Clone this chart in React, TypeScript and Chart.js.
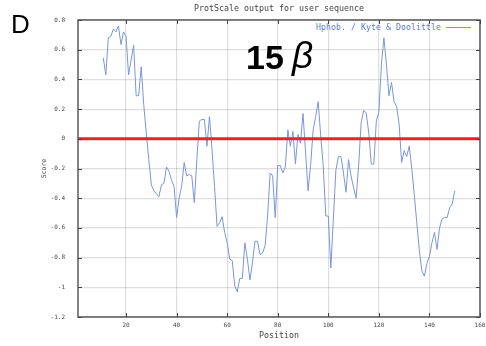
import React, { useEffect, useRef } from "react";
import { Chart, registerables } from "chart.js";

Chart.register(...registerables);

const positions: number[] = [
  11, 12, 13, 14, 15, 16, 17, 18, 19, 20, 21, 22, 23, 24, 25, 26, 27, 28, 29, 30,
  31, 32, 33, 34, 35, 36, 37, 38, 39, 40, 41, 42, 43, 44, 45, 46, 47, 48, 49, 50,
  51, 52, 53, 54, 55, 56, 57, 58, 59, 60, 61, 62, 63, 64, 65, 66, 67, 68, 69, 70,
  71, 72, 73, 74, 75, 76, 77, 78, 79, 80, 81, 82, 83, 84, 85, 86, 87, 88, 89, 90,
  91, 92, 93, 94, 95, 96, 97, 98, 99, 100, 101, 102, 103, 104, 105, 106, 107, 108, 109, 110,
  111, 112, 113, 114, 115, 116, 117, 118, 119, 120, 121, 122, 123, 124, 125, 126, 127, 128, 129, 130,
  131, 132, 133, 134, 135, 136, 137, 138, 139, 140, 141, 142, 143, 144, 145, 146, 147, 148, 149, 150,
];

const scores: number[] = [
  0.545, 0.43, 0.68, 0.69, 0.74, 0.72, 0.76, 0.635, 0.72, 0.69,
  0.43, 0.53, 0.63, 0.29, 0.29, 0.485, 0.23, 0.04, -0.14, -0.31,
  -0.35, -0.37, -0.39, -0.31, -0.3, -0.19, -0.22, -0.28, -0.32, -0.53,
  -0.4, -0.32, -0.16, -0.25, -0.24, -0.25, -0.43, -0.14, 0.12, 0.13,
  0.13, -0.05, 0.15, -0.07, -0.32, -0.59, -0.565, -0.525, -0.63, -0.7,
  -0.81, -0.82, -0.99, -1.03, -0.94, -0.94, -0.7, -0.81, -0.95, -0.835,
  -0.69, -0.69, -0.78, -0.77, -0.72, -0.52, -0.23, -0.25, -0.53, -0.18,
  -0.18, -0.23, -0.19, 0.06, -0.05, 0.05, -0.17, 0.03, -0.03, 0.17,
  -0.09, -0.35, -0.18, 0.06, 0.15, 0.25, 0.02, -0.18, -0.52, -0.52,
  -0.87, -0.54, -0.21, -0.12, -0.12, -0.23, -0.36, -0.14, -0.25, -0.33,
  -0.4, -0.18, 0.11, 0.19, 0.175, 0.04, -0.17, -0.17, 0.12, 0.18,
  0.5, 0.68, 0.5, 0.29, 0.38, 0.25, 0.22, 0.1, -0.16, -0.08,
  -0.12, -0.05, -0.2, -0.375, -0.565, -0.75, -0.89, -0.925, -0.84, -0.79,
  -0.7, -0.63, -0.745, -0.6, -0.54, -0.53, -0.53, -0.465, -0.44, -0.35,
];

const xMin = 1;
const xMax = 160;
const xTicks: number[] = [20, 40, 60, 80, 100, 120, 140, 160];
const yTicks: number[] = [-1.2, -1, -0.8, -0.6, -0.4, -0.2, 0, 0.2, 0.4, 0.6, 0.8];
const yTickLabels: string[] = ["-1.2", "-1", "-0.8", "-0.6", "-0.4", "-0.2", "0", "0.2", "0.4", "0.6", "0.8"];
const zeroLine: number[] = [0, 0];

const titleText = "ProtScale output for user sequence";
const legendText = "Hphob. / Kyte & Doolittle";
const xTitle = "Position";
const yTitle = "Score";

const MONO = "'DejaVu Sans Mono', monospace";
const BLUE = "#7a95dc";

const framePlugin = {
  id: "frame",
  afterDraw(chart: any) {
    const { ctx, chartArea, scales } = chart;
    const { left, right, top, bottom } = chartArea;
    ctx.save();
    ctx.strokeStyle = "#5a5a5a";
    ctx.lineWidth = 1.5;
    ctx.strokeRect(left, top, right - left, bottom - top);
    ctx.lineWidth = 1;
    ctx.strokeStyle = "#444";
    ctx.beginPath();
    for (const t of scales.x.ticks) {
      const px = Math.round(scales.x.getPixelForValue(t.value)) + 0.5;
      ctx.moveTo(px, top);
      ctx.lineTo(px, top + 4);
      ctx.moveTo(px, bottom);
      ctx.lineTo(px, bottom - 4);
    }
    for (const t of scales.y.ticks) {
      const py = Math.round(scales.y.getPixelForValue(t.value)) + 0.5;
      ctx.moveTo(left, py);
      ctx.lineTo(left + 4, py);
      ctx.moveTo(right, py);
      ctx.lineTo(right - 4, py);
    }
    ctx.stroke();
    ctx.restore();
  },
};

export default function App() {
  const canvasRef = useRef<HTMLCanvasElement | null>(null);

  useEffect(() => {
    if (!canvasRef.current) return;
    const chart = new Chart(canvasRef.current, {
      type: "line",
      data: {
        datasets: [
          {
            label: "zero",
            data: [xMin, xMax].map((x, i) => ({ x, y: zeroLine[i] })),
            borderColor: "#e8232b",
            borderWidth: 3,
            pointRadius: 0,
            tension: 0,
          },
          {
            label: legendText,
            data: positions.map((p, i) => ({ x: p, y: scores[i] })),
            borderColor: BLUE,
            borderWidth: 1,
            pointRadius: 0,
            tension: 0,
          },
        ],
      },
      plugins: [framePlugin],
      options: {
        animation: false,
        responsive: false,
        devicePixelRatio: 1,
        layout: { padding: { left: 0, top: 20, right: 6, bottom: 0 } },
        plugins: {
          legend: { display: false },
          title: { display: false },
          tooltip: { enabled: false },
        },
        scales: {
          x: {
            type: "linear",
            min: xMin,
            max: xMax,
            afterBuildTicks: (scale: any) => {
              scale.ticks = xTicks.map((v) => ({ value: v }));
            },
            afterFit: (scale: any) => {
              scale.height = 29;
              scale.paddingLeft = 0;
              scale.paddingRight = 0;
            },
            grid: { color: "rgba(0,0,0,0.13)", lineWidth: 1.2, drawTicks: false },
            border: { display: false },
            ticks: {
              padding: 5,
              maxRotation: 0,
              autoSkip: false,
              color: "#444",
              font: { family: MONO, size: 6 },
              callback: (v: any) => String(v),
            },
            title: {
              display: true,
              text: xTitle,
              color: "#444",
              font: { family: MONO, size: 8.3 },
              padding: { top: 0, bottom: 5 },
            },
          },
          y: {
            type: "linear",
            min: -1.2,
            max: 0.8,
            afterBuildTicks: (scale: any) => {
              scale.ticks = yTicks.map((v) => ({ value: v }));
            },
            afterFit: (scale: any) => {
              scale.width = 78;
              scale.paddingTop = 0;
              scale.paddingBottom = 0;
            },
            grid: { color: "rgba(0,0,0,0.13)", lineWidth: 1.2, drawTicks: false },
            border: { display: false },
            ticks: {
              padding: 13,
              autoSkip: false,
              color: "#444",
              font: { family: MONO, size: 6 },
              callback: (_v: any, i: number) => yTickLabels[i],
            },
            title: {
              display: true,
              text: yTitle,
              color: "#444",
              font: { family: MONO, size: 6.5 },
              padding: { top: 40, bottom: 0 },
            },
          },
        },
      },
    });
    return () => chart.destroy();
  }, []);

  return (
    <div style={{ position: "absolute", left: 0, top: 0, width: 486, height: 346, background: "#fff", overflow: "hidden" }}>
      <canvas ref={canvasRef} width={486} height={346} style={{ position: "absolute", left: 0, top: 0 }} />
      <div
        style={{
          position: "absolute",
          left: 0,
          width: 558,
          top: 2.5,
          textAlign: "center",
          fontFamily: MONO,
          fontSize: 8.3,
          lineHeight: "10px",
          color: "#444",
          whiteSpace: "nowrap",
        }}
      >
        {titleText}
      </div>
      <div
        style={{
          position: "absolute",
          left: 11,
          top: 11,
          fontFamily: "'Liberation Sans', Arial, sans-serif",
          fontSize: 26,
          lineHeight: 1,
          color: "#000",
        }}
      >
        D
      </div>
      <div
        style={{
          position: "absolute",
          left: 246,
          top: 39.5,
          fontFamily: "'Liberation Sans', Arial, sans-serif",
          fontSize: 34,
          fontWeight: "bold",
          lineHeight: 1,
          color: "#000",
          whiteSpace: "nowrap",
        }}
      >
        15
      </div>
      <div
        style={{
          position: "absolute",
          left: 292,
          top: 37,
          fontFamily: "'Liberation Sans', Arial, sans-serif",
          fontSize: 37,
          fontStyle: "italic",
          lineHeight: 1,
          color: "#000",
        }}
      >
        β
      </div>
      <div
        style={{
          position: "absolute",
          left: 316,
          top: 22,
          fontFamily: MONO,
          fontSize: 8.3,
          lineHeight: "10px",
          color: "#5d7bd0",
          whiteSpace: "nowrap",
        }}
      >
        {legendText}
      </div>
      <div style={{ position: "absolute", left: 446, top: 26.5, width: 25, height: 1, background: BLUE }} />
    </div>
  );
}
